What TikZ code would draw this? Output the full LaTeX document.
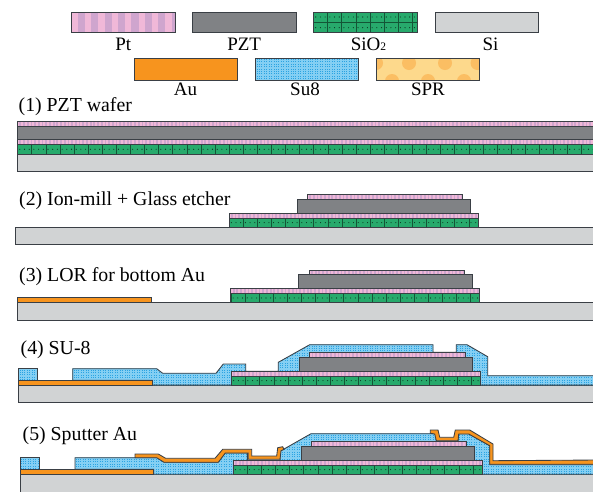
\documentclass[tikz,border=0pt]{standalone}
\usepackage{fontspec}
\setmainfont{Liberation Serif}
\definecolor{edgec}{HTML}{3A3F45}
\definecolor{ptbase}{HTML}{CFA5CE}
\definecolor{ptlight}{HTML}{F0B8D8}
\definecolor{pztc}{HTML}{808285}
\definecolor{siogreen}{HTML}{27AA6C}
\definecolor{sic}{HTML}{D1D3D4}
\definecolor{auc}{HTML}{F7941E}
\definecolor{sub}{HTML}{2BA3E2}
\definecolor{subline}{HTML}{84CFF3}
\definecolor{sprbase}{HTML}{FDD98C}
\definecolor{sprdot}{HTML}{FBBE63}
\tikzset{
  edge/.style={draw=edgec,line width=0.85pt,line join=miter},
  lbl/.style={inner sep=0pt,anchor=base,font=\fontsize{19}{19}\selectfont,text=black},
  head/.style={inner sep=0pt,anchor=base west,font=\fontsize{19.8}{19.8}\selectfont,text=black}
}
\newcommand\boxplain[5]{\draw[edge,fill=#1] (#2,#3) rectangle (#4,#5);}
\newcommand\boxpt[6]{% x1 y1 x2 y2 period stripewidth
  \begin{scope}
    \clip (#1,#2) rectangle (#3,#4);
    \fill[ptbase] (#1,#2) rectangle (#3,#4);
    \pgfmathsetmacro\xb{#1+#5}
    \foreach \xx in {#1,\xb,...,#3} {
      \fill[ptlight] (\xx,#2) rectangle ++(#6,#4-#2);
    }
  \end{scope}
  \draw[edge] (#1,#2) rectangle (#3,#4);
}
\newcommand\boxsio[5]{% x1 y1 x2 y2 rows
  \begin{scope}
    \clip (#1,#2) rectangle (#3,#4);
    \fill[siogreen] (#1,#2) rectangle (#3,#4);
    \pgfmathsetmacro\xb{#1+14.1}
    \foreach \xx in {#1,\xb,...,#3} {
      \draw[black!50!siogreen,line width=0.3pt] (\xx,#2) -- (\xx,#4);
    }
    \pgfmathsetmacro\xd{#1+4.7}
    \pgfmathsetmacro\ymid{(#2+#4)/2}
    \foreach \xx in {#1,\xd,...,#3} {
      \ifnum#5=1
        \fill[black!75!siogreen] (\xx+2.3,\ymid) circle (0.55);
      \else
        \fill[black!75!siogreen] (\xx+2.3,#2+5) circle (0.55);
        \fill[black!75!siogreen] (\xx+2.3,#4-5) circle (0.55);
        \draw[black!50!siogreen,line width=0.3pt] (#1,\ymid) -- (#3,\ymid);
      \fi
    }
  \end{scope}
  \draw[edge] (#1,#2) rectangle (#3,#4);
}
\newcommand\sufill[5]{
  \begin{scope}
    \clip #1;
    \fill[sub] (#2,#3) rectangle (#4,#5);
    \pgfmathsetmacro\xb{#2+1.7}
    \foreach \xx in {#2,\xb,...,#4} {
      \draw[subline,line width=0.45pt] (\xx,#3) -- (\xx,#5);
    }
    \pgfmathsetmacro\yb{#3+1.7}
    \foreach \yy in {#3,\yb,...,#5} {
      \draw[subline,line width=0.45pt] (#2,\yy) -- (#4,\yy);
    }
  \end{scope}
  \draw[edge] #1;
}
\newcommand\stack[2]{
  \begin{scope}[shift={(#1,#2)}]
    \boxsio{229}{218.3}{478}{227}{1}
    \boxpt{229}{213.3}{478}{218.3}{3.7}{1.9}
    \boxplain{pztc}{297}{199.3}{470.3}{213.3}
    \boxpt{307.3}{194.7}{462.7}{199.3}{3.7}{1.9}
  \end{scope}
}
\begin{document}
\begin{tikzpicture}[x=1pt,y=-1pt]
\useasboundingbox (0,0) rectangle (593,491);
\fill[white] (0,0) rectangle (593,491);
% legend
\boxpt{71.5}{12}{175}{32.7}{13.4}{6.2}
\boxplain{pztc}{192.5}{12}{296}{32.7}
\boxsio{313.4}{12}{417.3}{32.7}{2}
\boxplain{sic}{435}{12}{538.4}{32.7}
\boxplain{auc}{134}{58.5}{237.5}{80.3}
\sufill{(255,58.5) rectangle (358.5,80.3)}{255}{58.5}{358.5}{80.3}
\begin{scope}
  \clip (376,58.5) rectangle (479.5,80.3);
  \fill[sprbase] (376,58.5) rectangle (479.5,80.3);
  \foreach \cx/\cy in {409/63,445/63,477.5/63,376/63,392/81,428/81,464/81}
    \fill[sprdot] (\cx,\cy) circle (7);
\end{scope}
\draw[edge] (376,58.5) rectangle (479.5,80.3);
\node[lbl] (lpt) at (123.2,50.7) {Pt};
\node[lbl] (lpzt) at (244.2,50.7) {PZT};
\node[lbl] (lsio) at (368.5,50.7) {SiO{\fontsize{11.5}{11.5}\selectfont 2}};
\node[lbl] (lsi) at (490.5,50.7) {Si};
\node[lbl] (lau) at (185.5,95.7) {Au};
\node[lbl] (lsu) at (305,95.7) {Su8};
\node[lbl] (lspr) at (428,95.7) {SPR};
% headings
\node[head] (h1) at (18.5,111.7) {(1) PZT wafer};
\node[head] (h2) at (19,205) {(2) Ion-mill + Glass etcher};
\node[head] (h3) at (19,281.7) {(3) LOR for bottom Au};
\node[head] (h4) at (20.5,354) {(4) SU-8};
\node[head] (h5) at (22.5,440) {(5) Sputter Au};
% step 1
\boxplain{sic}{17.5}{154}{597}{171}
\boxsio{17.5}{144.5}{597}{154}{1}
\boxpt{17.5}{139.7}{597}{144.5}{3.7}{1.9}
\boxplain{pztc}{17.5}{126}{597}{139.7}
\boxpt{17.5}{121.7}{597}{126}{3.7}{1.9}
% step 2
\boxplain{sic}{15.5}{227}{597}{244.5}
\stack{0}{0}
% step 3
\boxplain{sic}{17.5}{302.5}{597}{320}
\boxplain{auc}{17.5}{297.7}{151.5}{302.5}
\stack{1.8}{75.3}
% step 4
\boxplain{sic}{18}{385}{597}{402.5}
\sufill{(18.3,380.3) -- (18.3,368.7) -- (37.7,368.7) -- (37.7,380.3) -- cycle}{18}{368}{38}{381}
\sufill{(72.7,380.3) -- (72.7,368.7) -- (156.7,368.7) -- (162.7,373.3) -- (216,373.3) -- (223.3,364) -- (245.7,364) -- (245.7,371.3) -- (278.3,371.3) -- (278.3,362.3) -- (309.7,344.7) -- (433,344.7) -- (433,352.3) -- (456.3,352.3) -- (456.3,344.7) -- (467,344.7) -- (487.7,356.7) -- (487.7,375.7) -- (597,375.7) -- (597,385) -- (152.3,385) -- (152.3,380.3) -- cycle}{72}{344}{597}{386}
\boxplain{auc}{18.3}{380.3}{152.3}{385}
\stack{2.4}{158}
% step 5
\boxplain{sic}{20}{474.3}{597}{495}
\sufill{(20,469.3) -- (20,457.7) -- (39.4,457.7) -- (39.4,469.3) -- cycle}{19}{457}{40}{470}
\sufill{(75,469.3) -- (75,457.7) -- (158.4,457.7) -- (164.4,462.3) -- (217.7,462.3) -- (225,453) -- (247.4,453) -- (247.4,460.3) -- (280,460.3) -- (280,451.3) -- (311,433.7) -- (436.3,433.7) -- (436.3,441) -- (458,441) -- (458.7,433.7) -- (468.7,433.7) -- (489.7,445.7) -- (489.7,464.7) -- (597,464.7) -- (597,474.3) -- (153.7,474.3) -- (153.7,469.3) -- cycle}{74}{433}{597}{475}
\boxplain{auc}{20}{469.3}{153.7}{474.3}
\stack{4.1}{247}
\draw[edge,fill=auc] (135,454) -- (158.3,454) -- (165.7,458.3) -- (215,458.3) -- (222.7,449.3) -- (251.7,449.3) -- (251.7,456) -- (276.7,456) -- (277.7,447.7) -- (282.7,446.7) -- (284,449.3) -- (281,450.7) -- (280,459.3) -- (248.3,459.3) -- (248.3,453) -- (225.3,453) -- (218.3,462.3) -- (164,462.3) -- (156.7,457.7) -- (135,457.7) -- cycle;
\draw[edge,fill=auc] (430.3,430) -- (438,430) -- (439.7,437.3) -- (453.7,437.3) -- (455.3,430) -- (469.7,430) -- (493,444) -- (493,460.7) -- (597,460) -- (597,464.3) -- (489.7,464.3) -- (489.7,445.7) -- (468.7,434) -- (458.7,434) -- (458,440.7) -- (436.3,440.7) -- (434.7,434) -- (430.3,433.3) -- cycle;
\end{tikzpicture}
\end{document}
